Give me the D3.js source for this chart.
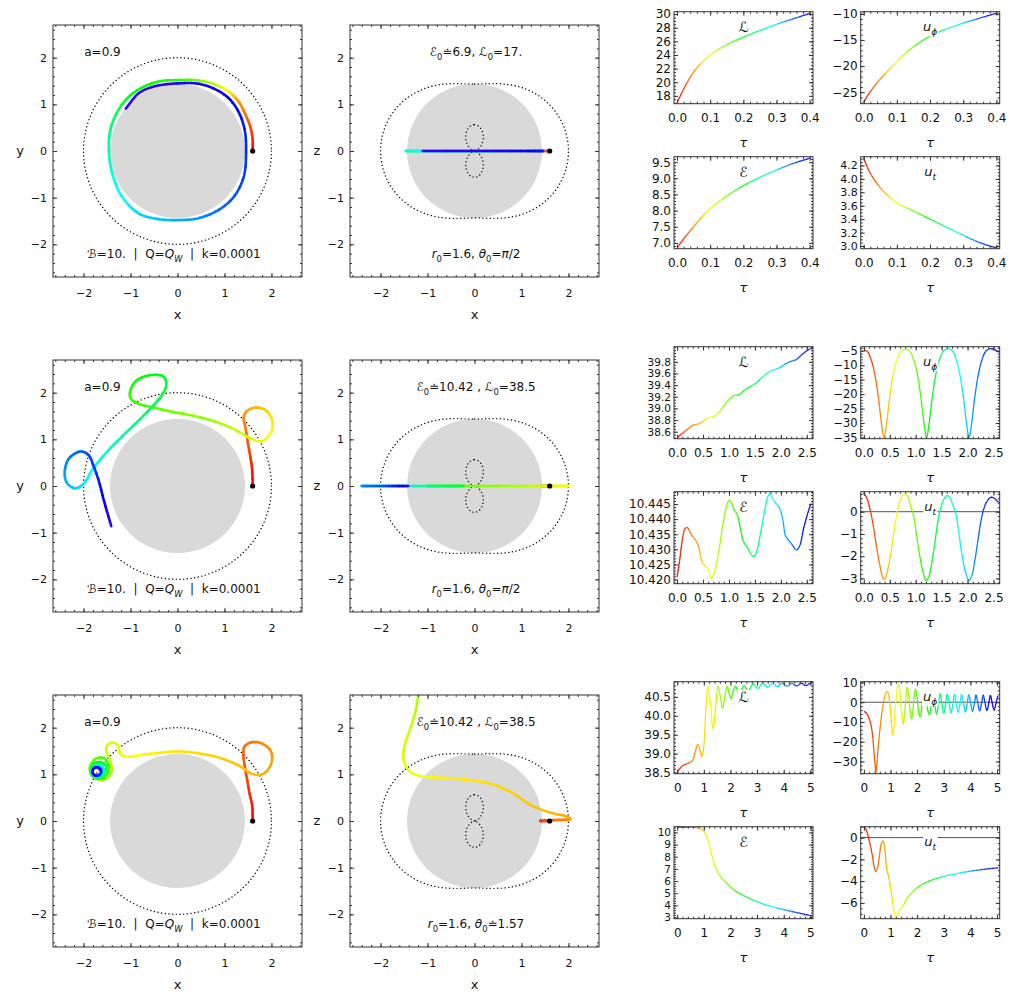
<!DOCTYPE html>
<html>
<head>
<meta charset="utf-8">
<script src="https://d3js.org/d3.v7.min.js"></script>
<style>
  body { margin: 0; background: #fff; }
  svg { font-family: "DejaVu Sans", sans-serif; }
</style>
</head>
<body>
<script>
// ---------- parameters ----------
const spin = 0.9;
const tauMax = [0.4, 2.6, 5];

// ---------- trajectories [x, y or z, tau] ----------
const r1XY = [[1.60,0.00,0.000],[1.60,0.24,0.016],[1.55,0.52,0.028],[1.45,0.77,0.040],[1.30,1.06,0.056],
  [1.09,1.27,0.088],[0.81,1.42,0.120],[0.45,1.51,0.144],[0.03,1.52,0.176],[-0.40,1.49,0.184],
  [-0.75,1.36,0.192],[-1.04,1.16,0.204],[-1.28,0.84,0.220],[-1.43,0.45,0.240],[-1.46,0.00,0.260],
  [-1.39,-0.48,0.272],[-1.18,-0.98,0.284],[-0.82,-1.34,0.300],[-0.40,-1.46,0.308],[0.03,-1.48,0.316],
  [0.45,-1.44,0.326],[0.88,-1.26,0.340],[1.20,-0.98,0.350],[1.41,-0.55,0.358],[1.46,0.00,0.364],
  [1.43,0.45,0.370],[1.30,0.84,0.376],[1.09,1.13,0.382],[0.81,1.32,0.386],[0.45,1.44,0.390],
  [0.03,1.45,0.393],[-0.47,1.39,0.396],[-0.82,1.24,0.398],[-1.10,0.91,0.400]];
const r1XZ = r1XY.map(d => [d[0], 0, d[2]]);   // equatorial orbit: z = 0

const r2XY = [[1.60,0.00,0.00],[1.59,0.34,0.05],[1.55,0.63,0.13],[1.50,0.91,0.21],[1.45,1.24,0.29],
  [1.41,1.47,0.34],[1.48,1.61,0.39],[1.66,1.68,0.44],[1.87,1.63,0.49],[2.01,1.43,0.55],[2.01,1.20,0.60],
  [1.87,1.00,0.65],[1.73,0.96,0.68],[1.52,1.04,0.73],[1.16,1.24,0.78],[0.74,1.40,0.86],[0.31,1.51,0.91],
  [-0.11,1.59,0.96],[-0.54,1.69,1.04],[-0.82,1.76,1.09],[-1.00,1.88,1.12],[-1.00,2.06,1.17],
  [-0.86,2.27,1.22],[-0.54,2.38,1.27],[-0.29,2.34,1.31],[-0.24,2.16,1.35],[-0.33,1.95,1.39],
  [-0.50,1.74,1.45],[-0.82,1.41,1.55],[-1.18,1.06,1.65],[-1.53,0.70,1.74],[-1.82,0.34,1.82],
  [-1.99,0.06,1.90],[-2.17,-0.05,1.97],[-2.35,0.06,2.03],[-2.40,0.31,2.10],[-2.31,0.59,2.18],
  [-2.06,0.74,2.25],[-1.89,0.66,2.30],[-1.78,0.41,2.36],[-1.67,0.09,2.42],[-1.57,-0.30,2.49],[-1.41,-0.86,2.60]];
const r2XZ = r2XY.map(d => [d[0], 0, d[2]]);

const r3XY = [[1.60,0.00,0.00],[1.59,0.33,0.12],[1.53,0.61,0.22],[1.48,0.90,0.30],[1.43,1.19,0.38],
  [1.40,1.44,0.45],[1.43,1.60,0.50],[1.59,1.69,0.56],[1.80,1.66,0.62],[1.98,1.51,0.68],[2.01,1.29,0.73],
  [1.91,1.08,0.78],[1.77,0.99,0.82],[1.59,1.01,0.86],[1.30,1.19,0.91],[0.88,1.36,0.97],[0.45,1.45,1.02],
  [0.03,1.49,1.07],[-0.40,1.46,1.12],[-0.82,1.41,1.18],[-1.10,1.38,1.23],[-1.22,1.44,1.28],
  [-1.25,1.58,1.32],[-1.35,1.68,1.36],[-1.48,1.64,1.40],[-1.52,1.50,1.44],[-1.45,1.36,1.48],
  [-1.42,1.24,1.52],
  [-1.40,1.06,1.58],[-1.51,0.91,1.65],[-1.69,0.89,1.72],[-1.84,1.00,1.79],[-1.86,1.18,1.86],
  [-1.75,1.33,1.93],[-1.57,1.35,2.00],[-1.47,1.21,2.07],
  [-1.48,1.04,2.14],[-1.58,0.93,2.21],[-1.72,0.91,2.28],[-1.83,1.00,2.35],[-1.84,1.14,2.42],
  [-1.76,1.24,2.49],[-1.63,1.26,2.56],[-1.52,1.18,2.63],
  [-1.55,1.04,2.70],[-1.62,0.95,2.77],[-1.73,0.94,2.84],[-1.81,1.01,2.91],[-1.83,1.11,2.98],
  [-1.76,1.19,3.05],[-1.66,1.21,3.12],[-1.58,1.14,3.19],
  [-1.59,1.03,3.27],[-1.65,0.96,3.35],[-1.74,0.95,3.43],[-1.81,1.01,3.51],[-1.82,1.09,3.59],
  [-1.76,1.16,3.67],[-1.68,1.17,3.75],[-1.62,1.12,3.83],
  [-1.62,1.03,3.91],[-1.67,0.97,3.99],[-1.74,0.97,4.07],[-1.80,1.01,4.15],[-1.81,1.08,4.23],
  [-1.76,1.14,4.31],[-1.70,1.15,4.39],[-1.64,1.11,4.47],
  [-1.63,1.04,4.55],[-1.68,0.98,4.62],[-1.74,0.97,4.69],[-1.80,1.02,4.76],[-1.81,1.08,4.83],
  [-1.77,1.14,4.90],[-1.70,1.15,4.96],[-1.64,1.10,5.00]];
const r3XZ = [[1.60,0.00,0.00],[1.45,0.00,0.10],[1.40,0.00,0.20],[1.48,0.01,0.35],[1.70,0.02,0.50],
  [1.95,0.03,0.62],[2.04,0.04,0.72],[1.95,0.10,0.80],[1.65,0.17,0.86],[1.22,0.33,0.91],[0.79,0.61,0.97],
  [0.37,0.79,1.02],[-0.20,0.89,1.08],[-0.77,0.93,1.15],[-1.19,0.97,1.22],[-1.40,1.08,1.28],
  [-1.51,1.33,1.34],[-1.49,1.61,1.40],[-1.37,1.97,1.46],[-1.26,2.33,1.52],[-1.19,2.76,1.58],[-1.15,3.10,1.64]];

// ---------- time series ----------
const r1TauL = [0,0.03,0.06,0.1,0.15,0.2,0.25,0.3,0.35,0.4];
const r1L = [17.0,19.9,22.1,24.0,25.5,26.6,27.6,28.5,29.3,30.1];
const r1TauUphi = [0,0.02,0.05,0.09,0.13,0.18,0.23,0.28,0.33,0.4];
const r1Uphi = [-26.9,-24.9,-22.5,-19.8,-17.3,-15.0,-13.4,-12.2,-11.2,-9.9];
const r1TauE = [0,0.02,0.04,0.07,0.1,0.15,0.2,0.25,0.3,0.35,0.4];
const r1E = [6.85,7.12,7.38,7.74,8.06,8.45,8.77,9.03,9.26,9.46,9.62];
const r1TauUt = [0,0.015,0.03,0.05,0.075,0.105,0.155,0.2,0.25,0.3,0.35,0.4];
const r1Ut = [4.31,4.13,4.0,3.87,3.74,3.63,3.51,3.40,3.28,3.16,3.05,2.97];

const r2TauL = [0,0.1,0.2,0.3,0.4,0.5,0.6,0.7,0.8,0.9,1.0,1.1,1.2,1.3,1.4,1.5,1.6,1.7,1.8,1.9,2.0,2.1,2.2,2.3,2.4,2.5,2.6];
const r2L = [38.5,38.57,38.64,38.71,38.73,38.78,38.84,38.86,38.93,39.04,39.15,39.22,39.24,39.32,39.37,39.42,
  39.5,39.58,39.64,39.67,39.71,39.77,39.81,39.84,39.92,39.99,40.04];
const r2TauUphi = [0,0.07,0.14,0.21,0.28,0.34,0.39,0.44,0.5,0.57,0.64,0.72,0.8,0.88,0.96,1.03,1.1,1.16,1.21,
  1.26,1.32,1.39,1.46,1.54,1.62,1.7,1.78,1.85,1.92,1.98,2.03,2.08,2.14,2.21,2.28,2.36,2.44,2.52,2.6];
const r2Uphi = [-4.7,-5.3,-8,-13,-21,-30,-35,-30,-21,-13,-8,-5,-4.5,-5,-8,-13,-21,-30,-35,
  -30,-21,-13,-8,-5,-4.3,-4.8,-8,-13,-21,-30,-35,-30,-21,-13,-8,-5,-4.3,-4.6,-5.5];
const r2TauE = [0,0.05,0.1,0.15,0.19,0.24,0.3,0.36,0.42,0.48,0.54,0.6,0.66,0.72,0.8,0.88,0.95,1.0,1.05,1.1,
  1.16,1.22,1.28,1.35,1.42,1.48,1.53,1.6,1.68,1.75,1.79,1.85,1.92,1.98,2.04,2.09,2.15,2.22,2.3,2.36,2.44,2.52,2.58];
const r2E = [10.4208,10.4265,10.433,10.4368,10.4373,10.436,10.4342,10.433,10.4305,10.426,10.4245,10.4235,
  10.4203,10.4225,10.429,10.438,10.444,10.4462,10.4455,10.443,10.4415,10.437,10.4325,10.4308,10.4285,
  10.4276,10.429,10.4345,10.442,10.4475,10.4485,10.4465,10.445,10.4435,10.4395,10.4345,10.433,10.4315,
  10.4298,10.431,10.437,10.442,10.4452];
const r2TauUt = [0,0.06,0.12,0.18,0.24,0.3,0.35,0.39,0.43,0.48,0.54,0.6,0.65,0.7,0.75,0.79,0.84,0.9,0.96,
  1.02,1.08,1.14,1.2,1.25,1.31,1.37,1.43,1.48,1.54,1.6,1.65,1.71,1.77,1.83,1.89,1.96,2.03,2.08,2.14,
  2.2,2.26,2.31,2.37,2.45,2.52,2.57,2.6];
const r2Ut = [0.85,0.6,0.1,-0.6,-1.5,-2.3,-2.85,-3.05,-2.9,-2.4,-1.6,-0.6,0.05,0.5,0.74,0.78,0.7,0.3,-0.2,
  -1.1,-2.0,-2.7,-3.1,-2.95,-2.3,-1.4,-0.4,0.15,0.55,0.72,0.68,0.35,-0.05,-0.9,-1.9,-2.7,-3.1,-2.9,-2.2,
  -1.3,-0.4,0.1,0.45,0.65,0.6,0.48,0.42];

const r3TauL = [0,0.2,0.35,0.5,0.6,0.7,0.77,0.85,0.93,1.0,1.08,1.16,1.25,1.35,1.45,1.54,1.62,1.7,1.8,1.88,
  1.95,2.02,2.1,2.19,2.27,2.35,2.44,2.52,2.6,2.68,2.78,2.87,2.96,3.05,3.15,3.24,3.33,3.42,3.51,3.6,
  3.7,3.79,3.88,3.97,4.06,4.15,4.24,4.33,4.42,4.51,4.6,4.69,4.78,4.87,4.96,5.05];
const r3L = [38.52,38.68,38.73,38.77,38.85,39.1,39.24,39.1,38.93,39.2,40.2,40.78,40.3,39.65,40.3,40.78,40.5,
  40.2,40.55,40.78,40.6,40.45,40.65,40.78,40.65,40.58,40.72,40.8,40.7,40.66,40.78,40.85,40.76,40.72,40.83,
  40.86,40.78,40.75,40.83,40.86,40.79,40.77,40.84,40.86,40.8,40.78,40.84,40.86,40.8,40.79,40.84,40.86,
  40.81,40.8,40.85,40.86];
const r3TauUphi = [0,0.08,0.16,0.24,0.31,0.36,0.41,0.45,0.49,0.54,0.6,0.67,0.74,0.81,0.88,0.94,1.0,1.05,1.08,
  1.12,1.17,1.22,1.27,1.3,1.34,1.39,1.44,1.48,1.52,1.57,1.62,1.66,1.71,1.75,1.79,1.84,1.89,1.94,1.99,
  2.04,2.08,2.12,2.17,2.23,2.28,2.33,2.39,2.46,2.53,2.59,2.66,2.73,2.8,2.86,2.93,3.0,3.07,3.13,3.2,
  3.27,3.34,3.4,3.47,3.54,3.61,3.67,3.74,3.81,3.88,3.94,4.01,4.08,4.15,4.21,4.28,4.35,4.42,4.48,4.55,
  4.62,4.69,4.75,4.82,4.89,4.96,5.03];
const r3Uphi = [-4.6,-5.3,-7,-10,-15,-22,-30,-35.5,-31,-22,-14,-6,0,4,5.5,3,-5,-13,-16.5,-14,-5,3,8.5,9.7,
  7,-1,-8,-11,-7,1,7.5,6,-1,-6,-8.5,-4,3,6.5,3.5,-3,-6.5,-7.5,-3,3,4.8,2,-3.5,-6.3,-1.2,4.4,-0.8,-6.0,
  -0.9,4.3,-0.8,-5.7,-0.8,4.2,-0.7,-5.4,-0.7,4.0,-0.7,-5.1,-0.7,3.9,-0.6,-4.9,-0.6,3.8,-0.6,-4.6,-0.6,
  3.7,-0.5,-4.4,-0.5,3.6,-0.5,-4.2,-0.5,3.5,-0.5,-4.0,-0.5,3.2];
const r3TauE = [0,0.3,0.6,0.8,0.9,1.0,1.08,1.16,1.22,1.29,1.38,1.48,1.6,1.73,1.87,2.0,2.25,2.5,2.75,3.0,
  3.3,3.6,3.9,4.25,4.6,5.0,5.05];
const r3E = [10.42,10.42,10.41,10.38,10.3,10.1,9.8,9.35,8.8,8.2,7.5,6.9,6.45,6.1,5.78,5.5,5.1,4.8,4.53,
  4.3,4.06,3.87,3.7,3.52,3.35,3.15,3.13];
const r3TauUt = [0,0.06,0.12,0.18,0.25,0.32,0.38,0.45,0.5,0.56,0.62,0.67,0.72,0.76,0.8,0.86,0.9,0.95,1.0,
  1.06,1.12,1.18,1.22,1.27,1.33,1.4,1.47,1.55,1.62,1.75,1.87,2.0,2.2,2.5,2.8,3.1,3.5,3.9,4.3,4.7,5.05];
const r3Ut = [1.0,0.85,0.5,-0.1,-0.8,-1.7,-2.6,-3.1,-2.9,-2.1,-1.0,-0.45,-0.3,-0.6,-1.4,-2.9,-3.3,-3.8,
  -4.6,-5.6,-6.6,-7.2,-7.35,-7.1,-6.7,-6.45,-6.3,-5.9,-5.6,-5.2,-4.9,-4.6,-4.3,-3.95,-3.7,-3.5,-3.3,
  -3.12,-2.98,-2.86,-2.78];

// ---------- tick labels ----------
const bigTicks = [-2,-1,0,1,2];
const tauTicks = [[0,0.1,0.2,0.3,0.4],[0,0.5,1,1.5,2,2.5],[0,1,2,3,4,5]];
const r1TicksL = [18,20,22,24,26,28,30], r1TicksUphi = [-25,-20,-15,-10];
const r1TicksE = [7,7.5,8,8.5,9,9.5], r1TicksUt = [3,3.2,3.4,3.6,3.8,4,4.2];
const r2TicksL = [38.6,38.8,39,39.2,39.4,39.6,39.8], r2TicksUphi = [-35,-30,-25,-20,-15,-10,-5];
const r2TicksE = [10.42,10.425,10.43,10.435,10.44,10.445], r2TicksUt = [-3,-2,-1,0];
const r3TicksL = [38.5,39,39.5,40,40.5], r3TicksUphi = [-30,-20,-10,0,10];
const r3TicksE = [3,4,5,6,7,8,9,10], r3TicksUt = [-6,-4,-2,0];

// ---------- layout ----------
const W = 1017, H = 994, ROW = 335;
const BIG = {w: 249, h: 252, xs: [53, 350], top: 25};
const SM = {w: 139, h: 92, xs: [674, 860.7], tops: [11.7, 156.7]};

const svg = d3.select("body").append("svg").attr("width", W).attr("height", H);
let clipN = 0;

const hueOf = f => d3.hsl(252 * Math.max(0, Math.min(1, f)), 1, 0.5).toString();

// centripetal Catmull-Rom through pixel points [x, y, f]
function spline(P, step) {
  const n = P.length;
  const ext = [[2*P[0][0]-P[1][0], 2*P[0][1]-P[1][1], P[0][2]], ...P,
    [2*P[n-1][0]-P[n-2][0], 2*P[n-1][1]-P[n-2][1], P[n-1][2]]];
  const dd = (a, b) => Math.max(1e-3, Math.sqrt(Math.hypot(b[0]-a[0], b[1]-a[1])));
  const out = [P[0]];
  for (let i = 1; i < ext.length - 2; i++) {
    const p0 = ext[i-1], p1 = ext[i], p2 = ext[i+1], p3 = ext[i+2];
    const t0 = 0, t1 = dd(p0, p1), t2 = t1 + dd(p1, p2), t3 = t2 + dd(p2, p3);
    const k = Math.max(2, Math.ceil(Math.hypot(p2[0]-p1[0], p2[1]-p1[1]) / step));
    for (let j = 1; j <= k; j++) {
      const t = t1 + (t2 - t1) * j / k;
      const L = (a, b, ta, tb) => [0, 1].map(c => ((tb - t) * a[c] + (t - ta) * b[c]) / (tb - ta));
      const A1 = L(p0, p1, t0, t1), A2 = L(p1, p2, t1, t2), A3 = L(p2, p3, t2, t3);
      const B1 = L(A1, A2, t0, t2), B2 = L(A2, A3, t1, t3);
      const C = L(B1, B2, t1, t2);
      out.push([C[0], C[1], p1[2] + (p2[2] - p1[2]) * j / k]);
    }
  }
  return out;
}

function rainbow(g, P, width, cap) {
  const D = spline(P, 1.5), nb = 120;
  let cur = null, pts = [];
  const flush = () => {
    if (pts.length > 1) g.append("path").attr("d", d3.line()(pts)).attr("fill", "none")
      .attr("stroke", hueOf((cur + 0.5) / nb)).attr("stroke-width", width)
      .attr("stroke-linecap", cap).attr("stroke-linejoin", "round");
  };
  D.forEach(p => {
    const b = Math.min(nb - 1, Math.floor(p[2] * nb));
    if (cur === null) { cur = b; pts = [[p[0], p[1]]]; return; }
    pts.push([p[0], p[1]]);
    if (b !== cur) { flush(); cur = b; pts = [[p[0], p[1]]]; }
  });
  flush();
}

function rich(g, cx, cy, segs, fs, bg) {
  const t = g.append("text").attr("x", cx).attr("y", cy + fs * 0.36).attr("text-anchor", "middle")
    .attr("font-size", fs).attr("fill", "#111").style("white-space", "pre");
  let shift = 0;
  segs.forEach(s => {
    const sp = t.append("tspan").text(s.t);
    const want = s.sub ? fs * 0.3 : 0;
    if (want !== shift) { sp.attr("dy", want - shift); shift = want; }
    if (s.sub) sp.attr("font-size", fs * 0.7);
    if (s.it) sp.attr("font-style", "italic");
  });
  if (bg) {
    const b = t.node().getBBox();
    g.insert("rect", () => t.node()).attr("x", b.x - 1).attr("y", b.y + 1)
      .attr("width", b.width + 2).attr("height", b.height - 2).attr("fill", "#fff");
  }
  return t;
}

function minorVals(dom, ms) {
  return d3.range(Math.ceil(dom[0] / ms - 1e-9), Math.floor(dom[1] / ms + 1e-9) + 1).map(i => +(i * ms).toFixed(6));
}

function frameAxes(g, x, y, w, h, xt, yt, fs, padX, padY) {
  const put = (axis, tr, size) => {
    const a = g.append("g").attr("transform", tr).call(axis);
    a.select(".domain").remove();
    a.attr("font-family", null).attr("font-size", size || fs);
    a.selectAll("line").attr("stroke", "#333");
    a.selectAll("text").attr("fill", "#111");
  };
  const xm = minorVals(x.domain(), xt.minor), ym = minorVals(y.domain(), yt.minor);
  put(d3.axisBottom(x).tickValues(xt.major).tickSize(-4).tickPadding(padX).tickFormat(d3.format(xt.fmt)), `translate(0,${h})`);
  put(d3.axisBottom(x).tickValues(xm).tickSize(-2).tickFormat(""), `translate(0,${h})`);
  put(d3.axisTop(x).tickValues(xt.major).tickSize(-4).tickFormat(""), "translate(0,0)");
  put(d3.axisTop(x).tickValues(xm).tickSize(-2).tickFormat(""), "translate(0,0)");
  put(d3.axisLeft(y).tickValues(yt.major).tickSize(-4).tickPadding(padY).tickFormat(d3.format(yt.fmt)), "translate(0,0)", yt.fs);
  put(d3.axisLeft(y).tickValues(ym).tickSize(-2).tickFormat(""), "translate(0,0)");
  put(d3.axisRight(y).tickValues(yt.major).tickSize(-4).tickFormat(""), `translate(${w},0)`);
  put(d3.axisRight(y).tickValues(ym).tickSize(-2).tickFormat(""), `translate(${w},0)`);
  g.append("rect").attr("width", w).attr("height", h).attr("fill", "none").attr("stroke", "#333").attr("stroke-width", 1);
}

function clipped(g, w, h) {
  const id = "clip" + (clipN++);
  g.append("clipPath").attr("id", id).append("rect").attr("width", w).attr("height", h);
  return g.append("g").attr("clip-path", `url(#${id})`);
}

const rPlus = 1 + Math.sqrt(1 - spin * spin);
const dotted = sel => sel.attr("fill", "none").attr("stroke", "#111").attr("stroke-width", 1.4)
  .attr("stroke-dasharray", "0.1,3.6").attr("stroke-linecap", "round");

function bigPanel(col, row, traj, tMax, topSegs, botSegs, axisName) {
  const px = BIG.xs[col], py = BIG.top + row * ROW;
  const g = svg.append("g").attr("transform", `translate(${px},${py})`);
  const x = d3.scaleLinear([-2.65, 2.65], [0, BIG.w]);
  const y = d3.scaleLinear([-2.7, 2.7], [BIG.h, 0]);
  const inner = clipped(g, BIG.w, BIG.h);
  inner.append("ellipse").attr("cx", x(0)).attr("cy", y(0)).attr("rx", x(rPlus) - x(0)).attr("ry", y(0) - y(rPlus)).attr("fill", "#d9d9d9");
  const line = d3.line().x(d => x(d[0])).y(d => y(d[1]));
  const th = d3.range(0, 361, 2).map(d => d * Math.PI / 180);
  if (col === 0) {
    // equatorial ergosphere r = 2
    inner.append("ellipse").attr("cx", x(0)).attr("cy", y(0)).attr("rx", x(2) - x(0)).attr("ry", y(0) - y(2)).call(dotted);
  } else {
    // outer and inner ergosurfaces in the x-z plane
    const outer = th.map(t => { const r = 1 + Math.sqrt(1 - spin * spin * Math.cos(t) ** 2); return [r * Math.sin(t), r * Math.cos(t)]; });
    const innerE = th.map(t => { const r = 1 - Math.sqrt(1 - spin * spin * Math.cos(t) ** 2); return [r * Math.sin(t), r * Math.cos(t)]; });
    inner.append("path").attr("d", line(outer)).call(dotted);
    inner.append("path").attr("d", line(innerE)).call(dotted);
  }
  rainbow(inner, traj.map(p => [x(p[0]), y(p[1]), p[2] / tMax]), 2.6, "round");
  inner.append("circle").attr("cx", x(traj[0][0])).attr("cy", y(traj[0][1])).attr("r", 2.6).attr("fill", "#000");
  if (topSegs) rich(g, col === 0 ? 49.5 : 126, 27, topSegs, 12, true);
  rich(g, col === 0 ? 121 : 126, 229, botSegs, 12, true);
  frameAxes(g, x, y, BIG.w, BIG.h, {major: bigTicks, minor: 0.2, fmt: "d"}, {major: bigTicks, minor: 0.2, fmt: "d"}, 11, 12, 6);
  g.append("text").attr("x", BIG.w / 2).attr("y", 294).attr("text-anchor", "middle").attr("font-size", 13).attr("fill", "#111").text("x");
  g.append("text").attr("x", -33).attr("y", y(0) + 4).attr("text-anchor", "middle").attr("font-size", 13).attr("fill", "#111").text(axisName);
}

function smallPanel(col, sub, row, tau, vals, xt, yt, labelSegs, zero) {
  const px = SM.xs[col], py = SM.tops[sub] + row * ROW;
  const g = svg.append("g").attr("transform", `translate(${px},${py})`);
  const x = d3.scaleLinear(xt.dom, [0, SM.w]);
  const y = d3.scaleLinear(yt.dom, [SM.h, 0]);
  const inner = clipped(g, SM.w, SM.h);
  if (zero) inner.append("line").attr("x1", 0).attr("x2", SM.w).attr("y1", y(0)).attr("y2", y(0)).attr("stroke", "#555").attr("stroke-width", 1);
  rainbow(inner, tau.map((t, i) => [x(t), y(vals[i]), t / xt.max]), 1.3, "butt");
  rich(g, SM.w / 2, 15, labelSegs, labelSegs.length > 1 ? 13 : 14, true);
  frameAxes(g, x, y, SM.w, SM.h, xt, yt, 12, 10, 3);
  g.append("text").attr("x", SM.w / 2).attr("y", SM.h + 43).attr("text-anchor", "middle").attr("font-size", 13)
    .attr("font-style", "italic").attr("fill", "#111").text("τ");
}

// ---------- annotations ----------
const noteA = [{t: "a=0.9"}];
const noteB = [{t: "ℬ=10.\u00a0 |\u00a0 Q="}, {t: "Q", it: 1}, {t: "W", it: 1, sub: 1}, {t: "\u00a0 |\u00a0 k=0.0001"}];
const noteE1 = [{t: "ℰ"}, {t: "0", sub: 1}, {t: "≐6.9, ℒ"}, {t: "0", sub: 1}, {t: "=17."}];
const noteE2 = [{t: "ℰ"}, {t: "0", sub: 1}, {t: "≐10.42 , ℒ"}, {t: "0", sub: 1}, {t: "=38.5"}];
const noteR = [{t: "r", it: 1}, {t: "0", sub: 1}, {t: "=1.6, "}, {t: "θ", it: 1}, {t: "0", sub: 1}, {t: "="}, {t: "π", it: 1}, {t: "/2"}];
const noteR3 = [{t: "r", it: 1}, {t: "0", sub: 1}, {t: "=1.6, "}, {t: "θ", it: 1}, {t: "0", sub: 1}, {t: "≐1.57"}];

const labL = [{t: "ℒ"}], labE = [{t: "ℰ"}];
const labUphi = [{t: "u", it: 1}, {t: "ϕ", it: 1, sub: 1}];
const labUt = [{t: "u", it: 1}, {t: "t", it: 1, sub: 1}];

// ---------- draw ----------
const trajXY = [r1XY, r2XY, r3XY], trajXZ = [r1XZ, r2XZ, r3XZ];
const notesTop = [noteE1, noteE2, noteE2], notesBot = [noteR, noteR, noteR3];
for (let r = 0; r < 3; r++) {
  bigPanel(0, r, trajXY[r], tauMax[r], noteA, noteB, "y");
  bigPanel(1, r, trajXZ[r], tauMax[r], notesTop[r], notesBot[r], "z");
}

const tauAxis = [
  {dom: [-0.009, 0.41], max: 0.4, major: tauTicks[0], minor: 0.02, fmt: ".1f"},
  {dom: [-0.06, 2.62], max: 2.6, major: tauTicks[1], minor: 0.1, fmt: ".1f"},
  {dom: [-0.12, 5.1], max: 5, major: tauTicks[2], minor: 0.2, fmt: "d"}];

smallPanel(0, 0, 0, r1TauL, r1L, tauAxis[0], {dom: [16.85, 30.35], major: r1TicksL, minor: 0.5, fmt: "d"}, labL);
smallPanel(1, 0, 0, r1TauUphi, r1Uphi, tauAxis[0], {dom: [-27.2, -9.6], major: r1TicksUphi, minor: 1, fmt: "d"}, labUphi);
smallPanel(0, 1, 0, r1TauE, r1E, tauAxis[0], {dom: [6.82, 9.67], major: r1TicksE, minor: 0.1, fmt: ".1f"}, labE);
smallPanel(1, 1, 0, r1TauUt, r1Ut, tauAxis[0], {dom: [2.96, 4.33], major: r1TicksUt, minor: 0.05, fmt: ".1f", fs: 11}, labUt);

smallPanel(0, 0, 1, r2TauL, r2L, tauAxis[1], {dom: [38.48, 40.06], major: r2TicksL, minor: 0.05, fmt: ".1f", fs: 10.5}, labL);
smallPanel(1, 0, 1, r2TauUphi, r2Uphi, tauAxis[1], {dom: [-35.4, -3.6], major: r2TicksUphi, minor: 1, fmt: "d", fs: 11.5}, labUphi);
smallPanel(0, 1, 1, r2TauE, r2E, tauAxis[1], {dom: [10.4186, 10.4491], major: r2TicksE, minor: 0.001, fmt: ".3f"}, labE);
smallPanel(1, 1, 1, r2TauUt, r2Ut, tauAxis[1], {dom: [-3.24, 0.9], major: r2TicksUt, minor: 0.2, fmt: "d"}, labUt, true);

smallPanel(0, 0, 2, r3TauL, r3L, tauAxis[2], {dom: [38.47, 40.9], major: r3TicksL, minor: 0.1, fmt: ".1f"}, labL);
smallPanel(1, 0, 2, r3TauUphi, r3Uphi, tauAxis[2], {dom: [-36.2, 10.4], major: r3TicksUphi, minor: 2, fmt: "d"}, labUphi, true);
smallPanel(0, 1, 2, r3TauE, r3E, tauAxis[2], {dom: [2.9, 10.47], major: r3TicksE, minor: 0.2, fmt: "d", fs: 10.5}, labE);
smallPanel(1, 1, 2, r3TauUt, r3Ut, tauAxis[2], {dom: [-7.45, 1.0], major: r3TicksUt, minor: 0.5, fmt: "d"}, labUt, true);
</script>
</body>
</html>
